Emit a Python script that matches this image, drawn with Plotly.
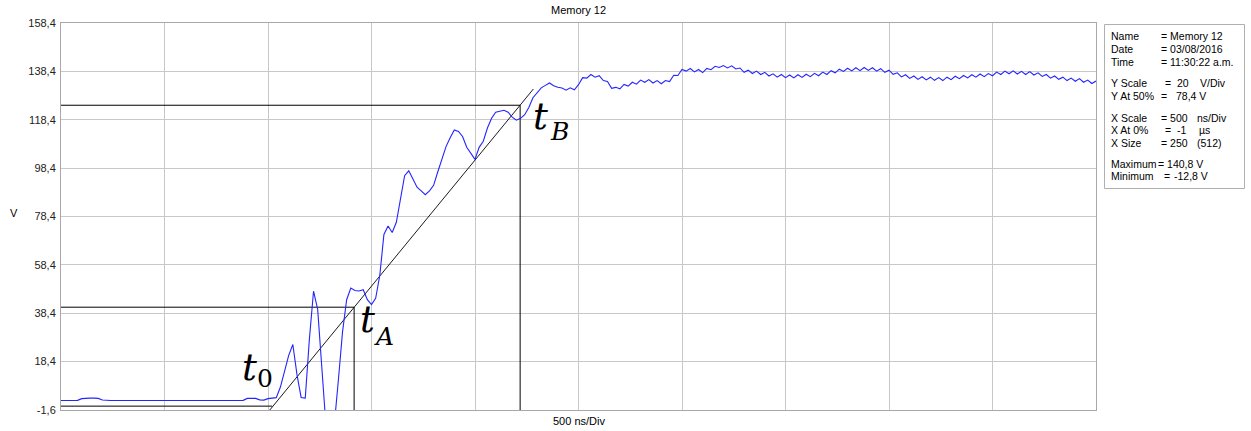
import plotly.graph_objects as go

# ---------------- data ----------------
# Sampled waveform (V), 251 samples, 20 ns apart, starting at -1 us
t_start_us = -1.0
t_step_us = 0.02
baseline_v = [2.3, 2.3, 2.3, 2.3, 2.4, 3.1, 3.3, 3.3, 3.3, 3.2,
              2.5, 2.3, 2.3, 2.3, 2.3, 2.3, 2.3, 2.3, 2.3, 2.3,
              2.3, 2.3, 2.3, 2.3, 2.3, 2.3, 2.3, 2.3, 2.3, 2.3,
              2.3, 2.3, 2.3, 2.3, 2.3, 2.3, 2.3, 2.3, 2.3, 2.3,
              2.3, 2.3, 2.3, 2.3, 2.4, 3.2, 3.3, 3.2, 2.6, 2.5,
              3.1, 3.2, 3.5]
rise_v = [7.9, 14.5, 21.0, 25.5, 13.0, 3.6, 3.3, 27.8, 47.5, 40.0,
          14.6, -8.0, -12.8, -8.0, 10.8, 30.7, 44.0, 48.8, 47.8, 47.6,
          48.1, 44.0, 42.0, 44.6, 54.0, 71.0, 74.5, 71.8, 76.0, 85.5,
          95.3, 97.3, 94.0, 90.5, 89.0, 87.4, 89.0, 91.3, 96.8, 102.0,
          107.3, 111.0, 114.2, 113.6, 111.5, 107.0, 104.6, 102.0, 107.0, 109.5,
          115.0, 119.0, 121.5, 122.0, 122.3, 121.5, 119.5, 118.2, 119.0, 120.5,
          123.5, 127.5, 129.8, 131.6, 132.6, 133.6, 132.5, 131.8, 131.5, 130.6,
          131.6, 130.8]
plateau_v = [132.9, 135.8, 135.6, 137.1, 136.0, 136.6, 134.6, 134.2, 131.4, 131.8,
             131.2, 133.0, 132.3, 133.9, 133.1, 134.8, 133.9, 135.0, 133.6, 134.6,
             133.3, 134.6, 134.2, 136.8, 136.7, 139.2, 138.5, 139.6, 138.2, 139.2,
             137.9, 139.6, 139.1, 140.5, 140.0, 140.8, 139.8, 140.7, 139.4, 139.8,
             138.0, 138.9, 137.5, 138.5, 137.1, 138.0, 136.5, 137.4, 136.0, 137.1,
             135.8, 136.9, 135.7, 137.0, 135.9, 137.2, 136.2, 137.6, 136.6, 138.1,
             137.1, 138.7, 137.8, 139.3, 138.4, 139.7, 138.6, 139.9, 138.7, 140.0,
             138.8, 139.9, 138.5, 139.5, 138.0, 138.9, 137.2, 137.8, 136.1, 137.0,
             135.5, 136.5, 135.1, 136.2, 134.9, 136.0, 134.7, 135.8, 134.6, 136.0,
             135.0, 136.4, 135.4, 136.7, 135.7, 137.0, 136.0, 137.3, 136.2, 137.5,
             136.6, 138.1, 137.1, 138.5, 137.4, 138.6, 137.3, 138.4, 137.1, 138.3,
             136.9, 137.8, 136.3, 137.1, 135.6, 136.5, 135.1, 136.0, 134.6, 135.6,
             134.3, 135.4, 133.9, 134.8, 133.4, 134.4]
signal_v = baseline_v + rise_v + plateau_v

# Construction lines (t in us, V)
box_b_t = [-1.0, 1.218, 1.218]
box_b_v = [124.4, 124.4, -1.6]
box_a_t = [-1.0, 0.416, 0.416]
box_a_v = [40.9, 40.9, -1.6]
base_t = [-1.0, 0.02]
base_v = [0.0, 0.0]
slope_t = [0.0, 1.282]
slope_v = [-2.5, 131.1]

# Axis
y_tickvals = [-1.6, 18.4, 38.4, 58.4, 78.4, 98.4, 118.4, 138.4, 158.4]
y_ticktext = ["-1,6", "18,4", "38,4", "58,4", "78,4", "98,4", "118,4", "138,4", "158,4"]
x_range = [-1.0, 4.0]
y_range = [-1.6, 158.4]

# Info panel
info_rows = [
    ("Name", 36, [("= Memory 12", 1159)]),
    ("Date", 48.5, [("= 03/08/2016", 1159)]),
    ("Time", 62, [("= 11:30:22 a.m.", 1159)]),
    ("Y Scale", 83, [("=", 1163), ("20", 1175), ("V/Div", 1198)]),
    ("Y At 50%", 96, [("=", 1159), ("78,4 V", 1174)]),
    ("X Scale", 117.5, [("= 500", 1159), ("ns/Div", 1195)]),
    ("X At 0%", 130, [("=", 1163), ("-1", 1175), ("µs", 1197)]),
    ("X Size", 142.5, [("= 250", 1159), ("(512)", 1195)]),
    ("Maximum", 163.5, [("= 140,8 V", 1156)]),
    ("Minimum", 176, [("=", 1162), ("-12,8 V", 1172)]),
]

# ---------------- layout geometry (pixels) ----------------
W, H = 1251, 431
L, R, T, B = 61, 1096, 23, 410


def px(x):
    return (x - L) / (R - L)


def py(y):
    return (B - y) / (B - T)


FONT = "Liberation Sans, Arial, sans-serif"
MATH = "DejaVu Serif, serif"

fig = go.Figure()

fig.add_trace(go.Scatter(x=box_b_t, y=box_b_v, mode="lines",
                         line=dict(color="#000000", width=1), hoverinfo="skip"))
fig.add_trace(go.Scatter(x=box_a_t, y=box_a_v, mode="lines",
                         line=dict(color="#000000", width=1), hoverinfo="skip"))
fig.add_trace(go.Scatter(x=base_t, y=base_v, mode="lines",
                         line=dict(color="#000000", width=1), hoverinfo="skip"))
fig.add_trace(go.Scatter(x=slope_t, y=slope_v, mode="lines",
                         line=dict(color="#000000", width=0.9), hoverinfo="skip"))
fig.add_trace(go.Scatter(y=signal_v, x0=t_start_us, dx=t_step_us, mode="lines",
                         line=dict(color="#2424ff", width=1.1), hoverinfo="skip"))

shapes = []
# white boxes behind the math labels (cover grid, below traces)
for (x0, y0, x1, y1) in [(240, 353, 277, 394), (356, 305, 397, 352), (522, 103, 574, 146)]:
    shapes.append(dict(type="rect", xref="paper", yref="paper",
                       x0=px(x0), x1=px(x1), y0=py(y1), y1=py(y0),
                       fillcolor="white", line=dict(width=0), layer="between"))
# info panel frame
shapes.append(dict(type="rect", xref="paper", yref="paper",
                   x0=px(1104.5), x1=px(1244.5), y0=py(188.5), y1=py(24.5),
                   fillcolor="white", line=dict(color="#b0b0b0", width=1), layer="above"))

ann = []
# title / axis text
ann.append(dict(text="Memory 12", x=px(578.5), y=py(10), xref="paper", yref="paper",
                showarrow=False, font=dict(family=FONT, size=11, color="#000"),
                xanchor="center", yanchor="middle"))
ann.append(dict(text="500 ns/Div", x=px(578.5), y=py(421), xref="paper", yref="paper",
                showarrow=False, font=dict(family=FONT, size=11, color="#000"),
                xanchor="center", yanchor="middle"))
ann.append(dict(text="V", x=px(13.5), y=py(213), xref="paper", yref="paper",
                showarrow=False, font=dict(family=FONT, size=11, color="#000"),
                xanchor="center", yanchor="middle"))

# math labels: (t center x, t center y, sub text, sub center x, sub center y)
for tx, ty, sub, sx, sy in [(249, 367, "0", 265, 378),
                            (367, 319, "<i>A</i>", 384, 336),
                            (540, 117, "<i>B</i>", 559, 131)]:
    ann.append(dict(text="<i>t</i>", x=px(tx), y=py(ty), xref="paper", yref="paper",
                    showarrow=False, font=dict(family=MATH, size=37, color="#000"),
                    xanchor="center", yanchor="middle", borderpad=0))
    ann.append(dict(text=sub, x=px(sx), y=py(sy), xref="paper", yref="paper",
                    showarrow=False, font=dict(family=MATH, size=25, color="#000"),
                    xanchor="center", yanchor="middle", borderpad=0))

# info panel text
for label, yy, parts in info_rows:
    ann.append(dict(text=label, x=px(1109), y=py(yy), xref="paper", yref="paper",
                    showarrow=False, font=dict(family=FONT, size=10.5, color="#000"),
                    xanchor="left", yanchor="middle"))
    for txt, xx in parts:
        ann.append(dict(text=txt, x=px(xx), y=py(yy), xref="paper", yref="paper",
                        showarrow=False, font=dict(family=FONT, size=10.5, color="#000"),
                        xanchor="left", yanchor="middle"))

fig.update_layout(
    width=W, height=H,
    margin=dict(l=L, r=W - R, t=T, b=H - B, pad=0),
    paper_bgcolor="white", plot_bgcolor="white",
    showlegend=False,
    shapes=shapes, annotations=ann,
    xaxis=dict(range=x_range, tick0=-1.0, dtick=0.5, showticklabels=False,
               showgrid=True, gridcolor="#c8c8c8", gridwidth=1, zeroline=False,
               showline=True, linecolor="#a8a8a8", linewidth=1, mirror=True,
               ticks="", fixedrange=True),
    yaxis=dict(range=y_range, tickvals=y_tickvals, ticktext=y_ticktext,
               showgrid=True, gridcolor="#c8c8c8", gridwidth=1, zeroline=False,
               showline=True, linecolor="#a8a8a8", linewidth=1, mirror=True,
               ticks="", tickfont=dict(family=FONT, size=11, color="#222"),
               ticklabelstandoff=2, fixedrange=True),
)

fig.write_html("out.html", config={"displayModeBar": False},
               post_script="document.body.style.margin='0px';document.body.style.padding='0px';")
